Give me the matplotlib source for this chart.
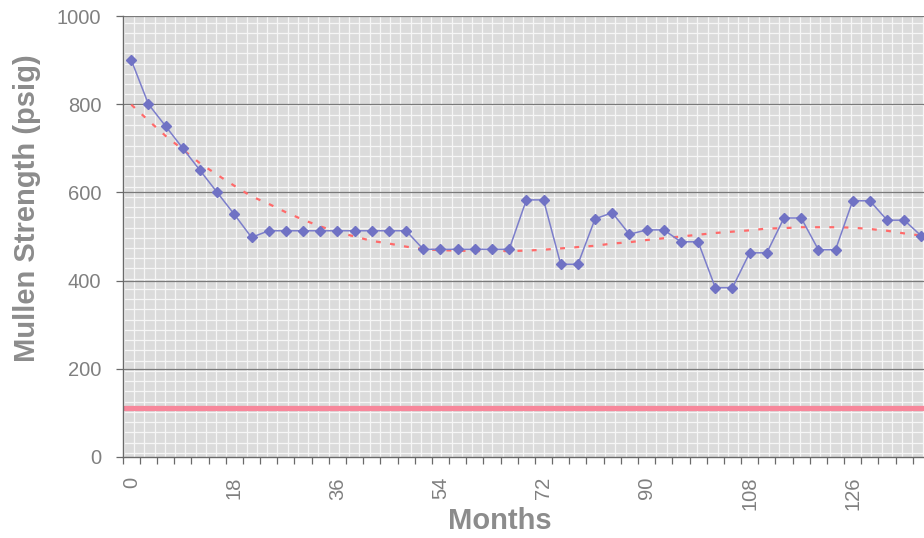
import numpy as np
import matplotlib
matplotlib.use("Agg")
import matplotlib.pyplot as plt
from matplotlib.collections import LineCollection

# ---- data ----
months = list(range(0, 139, 3))  # 0..138, one sample every 3 months
strength = [900, 800, 750, 700, 650, 600, 550, 498,
            513, 513, 513, 513, 513, 513, 513, 513, 513,
            471, 471, 471, 471, 471, 471,
            583, 583, 437, 437, 540, 554, 505,
            515, 515, 488, 488, 384, 384, 463, 463,
            542, 542, 470, 470, 581, 581, 537, 537, 501]
trend = [799, 763, 728, 697, 666, 640, 615, 591, 574, 555, 538, 523, 510,
         500, 490, 484, 477, 471, 469, 468, 467, 467, 467, 468, 470, 473,
         476, 479, 484, 487, 492, 496, 500, 504, 508, 511, 514, 518, 519,
         521, 521, 521, 520, 517, 513, 507, 502]
min_spec = 110
xtick_vals = [0, 18, 36, 54, 72, 90, 108, 126]
ytick_vals = [0, 200, 400, 600, 800, 1000]

plt.rcParams['font.family'] = ['Liberation Sans', 'DejaVu Sans']

fig = plt.figure(figsize=(9.24, 5.38), dpi=100)
L, R, B, T = 122.7, 924.0, 457.0, 16.0
W, H = 924.0, 538.0
ax = fig.add_axes([L / W, (H - B) / H, (R - L) / W, (B - T) / H])
ax.set_facecolor('#dbdbdb')

ax.set_xlim(-1.5, 138.45)
ax.set_ylim(0, 1000)

# background pattern (white grid of the patterned fill)
segs = []
px = 144.3 - 10.24 * 2
while px < R + 1:
    if px > L:
        xf = (px - L) / (R - L)
        segs.append([(xf, 0), (xf, 1)])
    px += 10.24
py = 22.7
while py < B:
    yf = (B - py) / (B - T)
    segs.append([(0, yf), (1, yf)])
    py += 10.24
ax.add_collection(LineCollection(segs, colors='#f6f6f6', linewidths=0.9,
                                 transform=ax.transAxes, zorder=0.5))

# major gridlines
for yv in ytick_vals[1:]:
    ax.axhline(yv, color='#7a7a7a', lw=0.9, zorder=1)

# min spec line
ax.axhline(min_spec, color='#f7879b', lw=3.8, zorder=2)

# trend line
ax.plot(months, trend, color='#ff6a6a', lw=1.6, dashes=(2.2, 4.2), zorder=3)

# data
ax.plot(months, strength, color='#7c7ecb', lw=1.1, marker='D', markersize=5,
        markerfacecolor='#7072c4', markeredgecolor='#7072c4', zorder=4,
        clip_on=True)

# spines
for s in ['top', 'right']:
    ax.spines[s].set_visible(False)
for s in ['left', 'bottom']:
    ax.spines[s].set_color('#6a6a6a')
    ax.spines[s].set_linewidth(1.0)

# ticks
ax.set_yticks(ytick_vals)
ax.set_yticklabels([str(v) for v in ytick_vals])
ax.tick_params(axis='y', direction='out', length=5, width=0.9, color='#6a6a6a',
               labelsize=14.5, labelcolor='#808080', pad=10.5)
ax.set_xticks(xtick_vals)
ax.set_xticklabels([str(v) for v in xtick_vals])
ax.tick_params(axis='x', which='major', length=0, labelsize=14.5,
               labelcolor='#808080', pad=14.4)
for lab in ax.get_xticklabels():
    lab.set_rotation(90)
    lab.set_rotation_mode('default')
    lab.set_verticalalignment('top')
    lab.set_horizontalalignment('center')
ax.set_xticks(np.arange(-1.5, 138.5, 3), minor=True)
ax.tick_params(axis='x', which='minor', direction='out', length=5, width=0.9,
               color='#6a6a6a')

ax.set_xlabel('Months', fontsize=21, fontweight='bold', color='#8c8c8c', va='center')
ax.xaxis.set_label_coords((500 - L) / (R - L), (B - 521) / (B - T))
ax.set_ylabel('Mullen Strength (psig)', fontsize=21, fontweight='bold',
              color='#8c8c8c', va='center')
ax.yaxis.set_label_coords((27 - L) / (R - L), (B - 208) / (B - T))

fig.savefig('out.png', dpi=100)
